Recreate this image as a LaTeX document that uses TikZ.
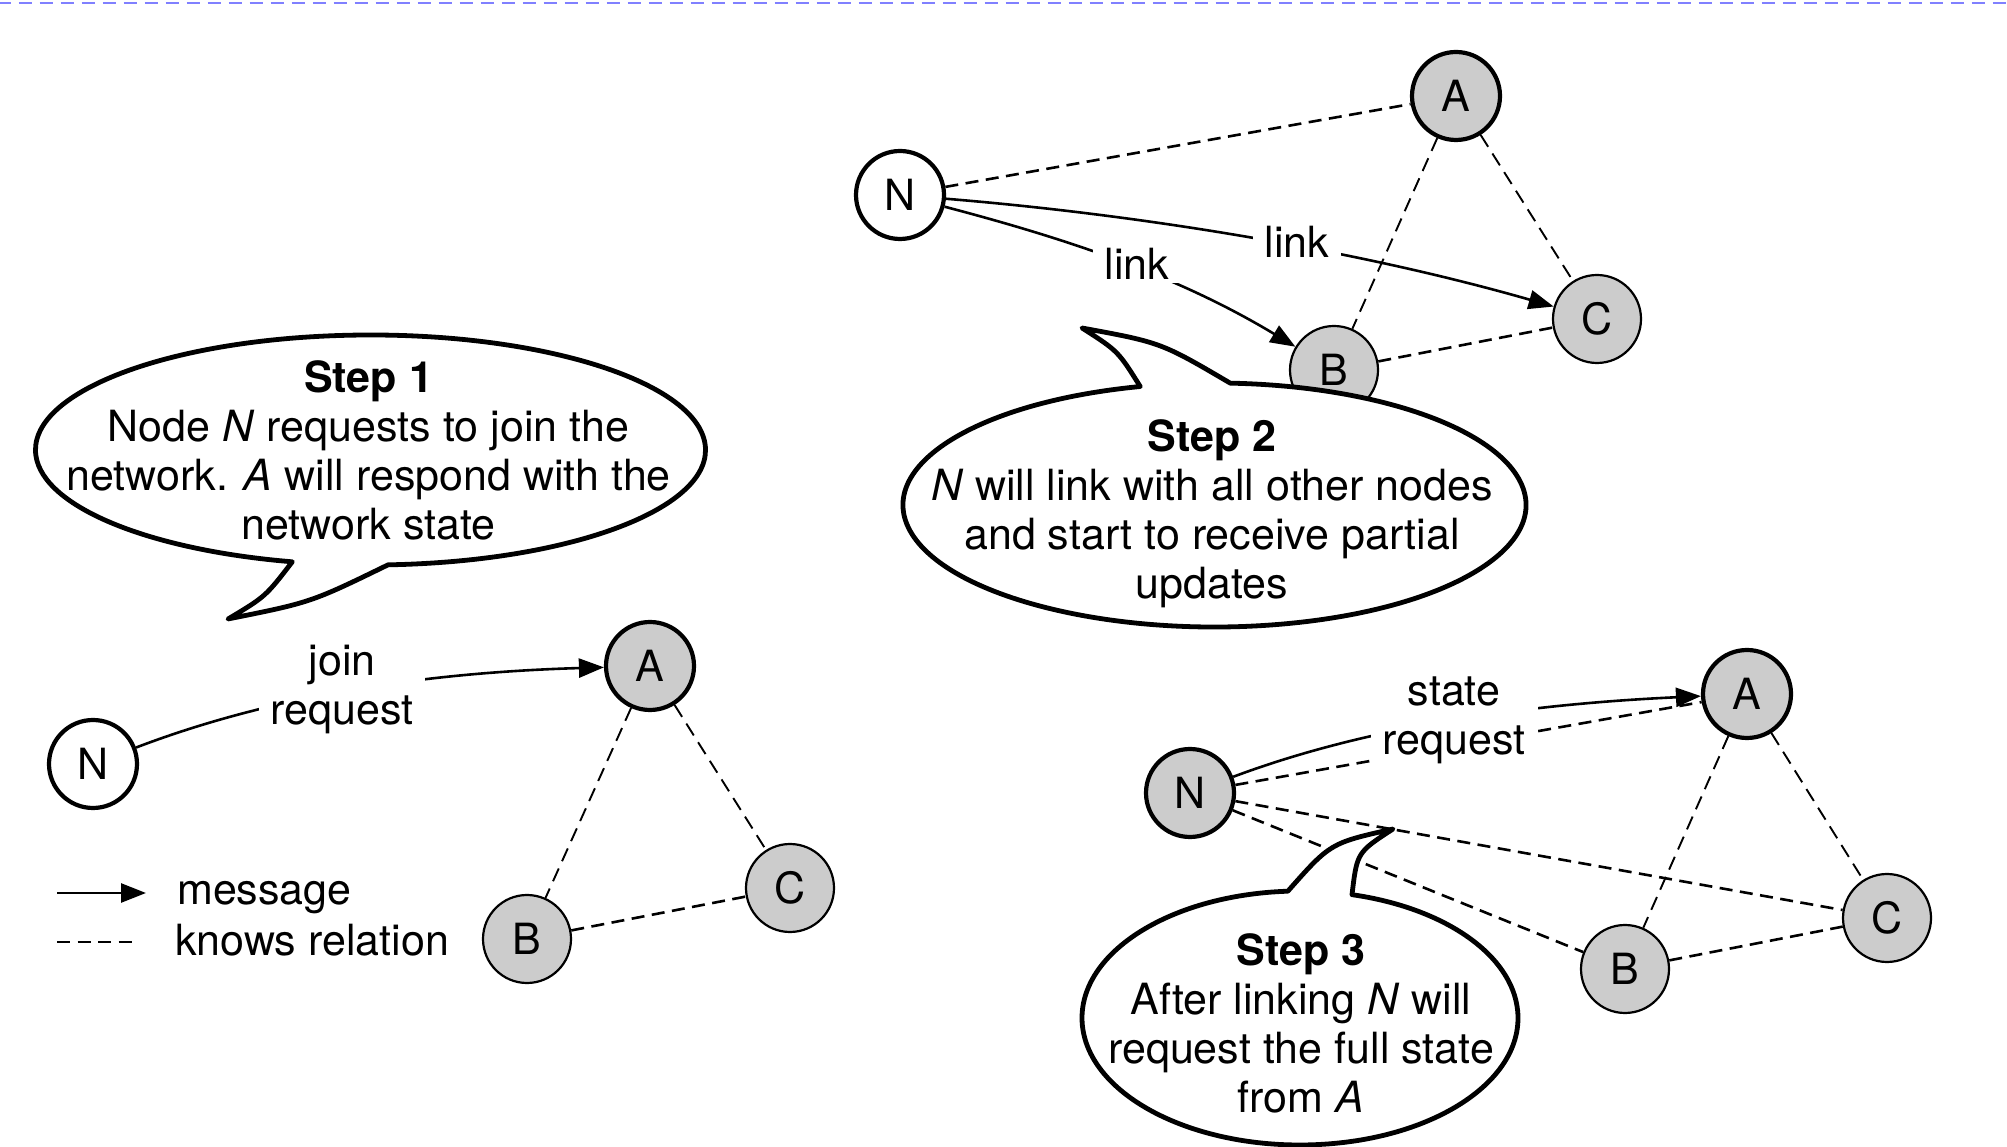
\documentclass[tikz,border=0pt]{standalone}
\usepackage{fontspec}
\setmainfont{TeX Gyre Heros}
\usetikzlibrary{arrows.meta,calc}
\definecolor{nodegray}{HTML}{CCCCCC}
\definecolor{edgeblue}{HTML}{8080FF}

\begin{document}
\begin{tikzpicture}[x=1pt,y=1pt,
  font=\fontsize{43}{49}\selectfont,
  peer/.style={circle,draw,fill=nodegray,minimum size=88pt,inner sep=0pt,line width=2.2pt},
  hub/.style={peer,line width=4.2pt},
  newpeer/.style={peer,fill=white,line width=4.2pt},
  knows/.style={dash pattern=on 13pt off 7.5pt,line width=2.6pt},
  knowsthin/.style={dash pattern=on 14pt off 8pt,line width=1.9pt},
  msg/.style={line width=2.6pt,-{Triangle[length=25pt,width=19pt]}},
  tag/.style={fill=white,inner xsep=12pt,inner ysep=3pt,align=center},
  bubble/.style={draw,fill=white,line width=4.8pt,line join=round},
  bubbletext/.style={align=center,inner sep=0pt},
  legendtext/.style={anchor=base west,inner sep=0pt},
  pageedge/.style={draw=edgeblue,line width=2.5pt,dash pattern=on 13.5pt off 7.5pt,dash phase=2.5pt}
]
\useasboundingbox (0,0) rectangle (2007,1146);

% dashed page edge along the top
\coordinate (edgeL) at (0,1143);
\coordinate (edgeR) at (2007,1143);
\draw[pageedge] (edgeL) -- (edgeR);

% ---------- Step 1: join request ----------
\node[newpeer] (N1) at (93,382) {N};
\node[hub]     (A1) at (650,480) {A};
\node[peer]    (B1) at (527,207) {B};
\node[peer]    (C1) at (790,258) {C};
\draw[knowsthin] (A1) -- (B1);
\draw[knowsthin] (A1) -- (C1);
\draw[knows] (B1) -- (C1);
\draw[msg] (N1) .. controls (284,455) and (444,474) .. (A1);
\node[tag] (J) at (342,457) {join\\request};

% ---------- Step 2: linking ----------
\node[newpeer] (N2) at (900,951) {N};
\node[hub]     (A2) at (1456,1050) {A};
\node[peer]    (B2) at (1334,776) {B};
\node[peer]    (C2) at (1597,827) {C};
\draw[knows] (N2) -- (A2);
\draw[knowsthin] (A2) -- (B2);
\draw[knowsthin] (A2) -- (C2);
\draw[knows] (B2) -- (C2);
\draw[msg] (N2) .. controls (1079,904) and (1183,867) .. (B2);
\draw[msg] (N2) .. controls (1144,931) and (1360,895) .. (C2);
\node[tag] (L1) at (1137,882) {link};
\node[tag] (L2) at (1297,904) {link};

% ---------- Step 3: state request ----------
\node[hub]  (N3) at (1190,353) {N};
\node[hub]  (A3) at (1747,452) {A};
\node[peer] (B3) at (1625,177) {B};
\node[peer] (C3) at (1887,228) {C};
\draw[knows] (N3) -- (A3);
\draw[knows] (N3) -- (B3);
\draw[knows] (N3) -- (C3);
\draw[knowsthin] (A3) -- (B3);
\draw[knowsthin] (A3) -- (C3);
\draw[knows] (B3) -- (C3);
\draw[msg] (N3) .. controls (1382,425) and (1552,443) .. (A3);
\node[tag] (S) at (1454,426) {state\\request};

% ---------- speech bubbles ----------
\coordinate (E1) at (370.5,696);
\coordinate (T1r) at ($(E1)+(273:335pt and 115pt)$);
\coordinate (P1) at (228,527);
\path[bubble] (T1r) arc[start angle=273,end angle=616.5,x radius=335pt,y radius=115pt]
  .. controls (265.5,549.4) .. (P1) .. controls (311,543.6) .. (T1r) -- cycle;
\node[bubbletext] (T1) at (368.5,695.5)
  {\textbf{Step 1}\\Node \textit{N} requests to join the\\network. \textit{A} will respond with the\\network state};

\coordinate (E2) at (1214.5,641);
\coordinate (T2l) at ($(E2)+(103.8:311.5pt and 122pt)$);
\coordinate (P2) at (1082,818);
\path[bubble] (T2l) arc[start angle=103.8,end angle=447.1,x radius=311.5pt,y radius=122pt]
  .. controls (1161,803.5) .. (P2) .. controls (1118,795) .. (T2l) -- cycle;
\node[bubbletext] (T2) at (1212,632.5)
  {\textbf{Step 2}\\\textit{N} will link with all other nodes\\and start to receive partial\\updates};

\coordinate (E3) at (1300,128);
\coordinate (T3l) at ($(E3)+(93.2:218pt and 127pt)$);
\coordinate (P3) at (1393,317);
\path[bubble] (T3l) arc[start angle=93.2,end angle=436.2,x radius=218pt,y radius=127pt]
  .. controls (1357,293.6) .. (P3) .. controls (1330.4,303) .. (T3l) -- cycle;
\node[bubbletext] (T3) at (1301,123)
  {\textbf{Step 3}\\After linking \textit{N} will\\request the full state\\from \textit{A}};

% ---------- legend ----------
\coordinate (m1) at (57,253);
\coordinate (m2) at (146,253);
\draw[msg] (m1) -- (m2);
\node[legendtext] (lm) at (177,241) {message};
\coordinate (k1) at (57,204);
\coordinate (k2) at (134,204);
\draw[knows] (k1) -- (k2);
\node[legendtext] (lk) at (175,190) {knows relation};
\end{tikzpicture}
\end{document}
